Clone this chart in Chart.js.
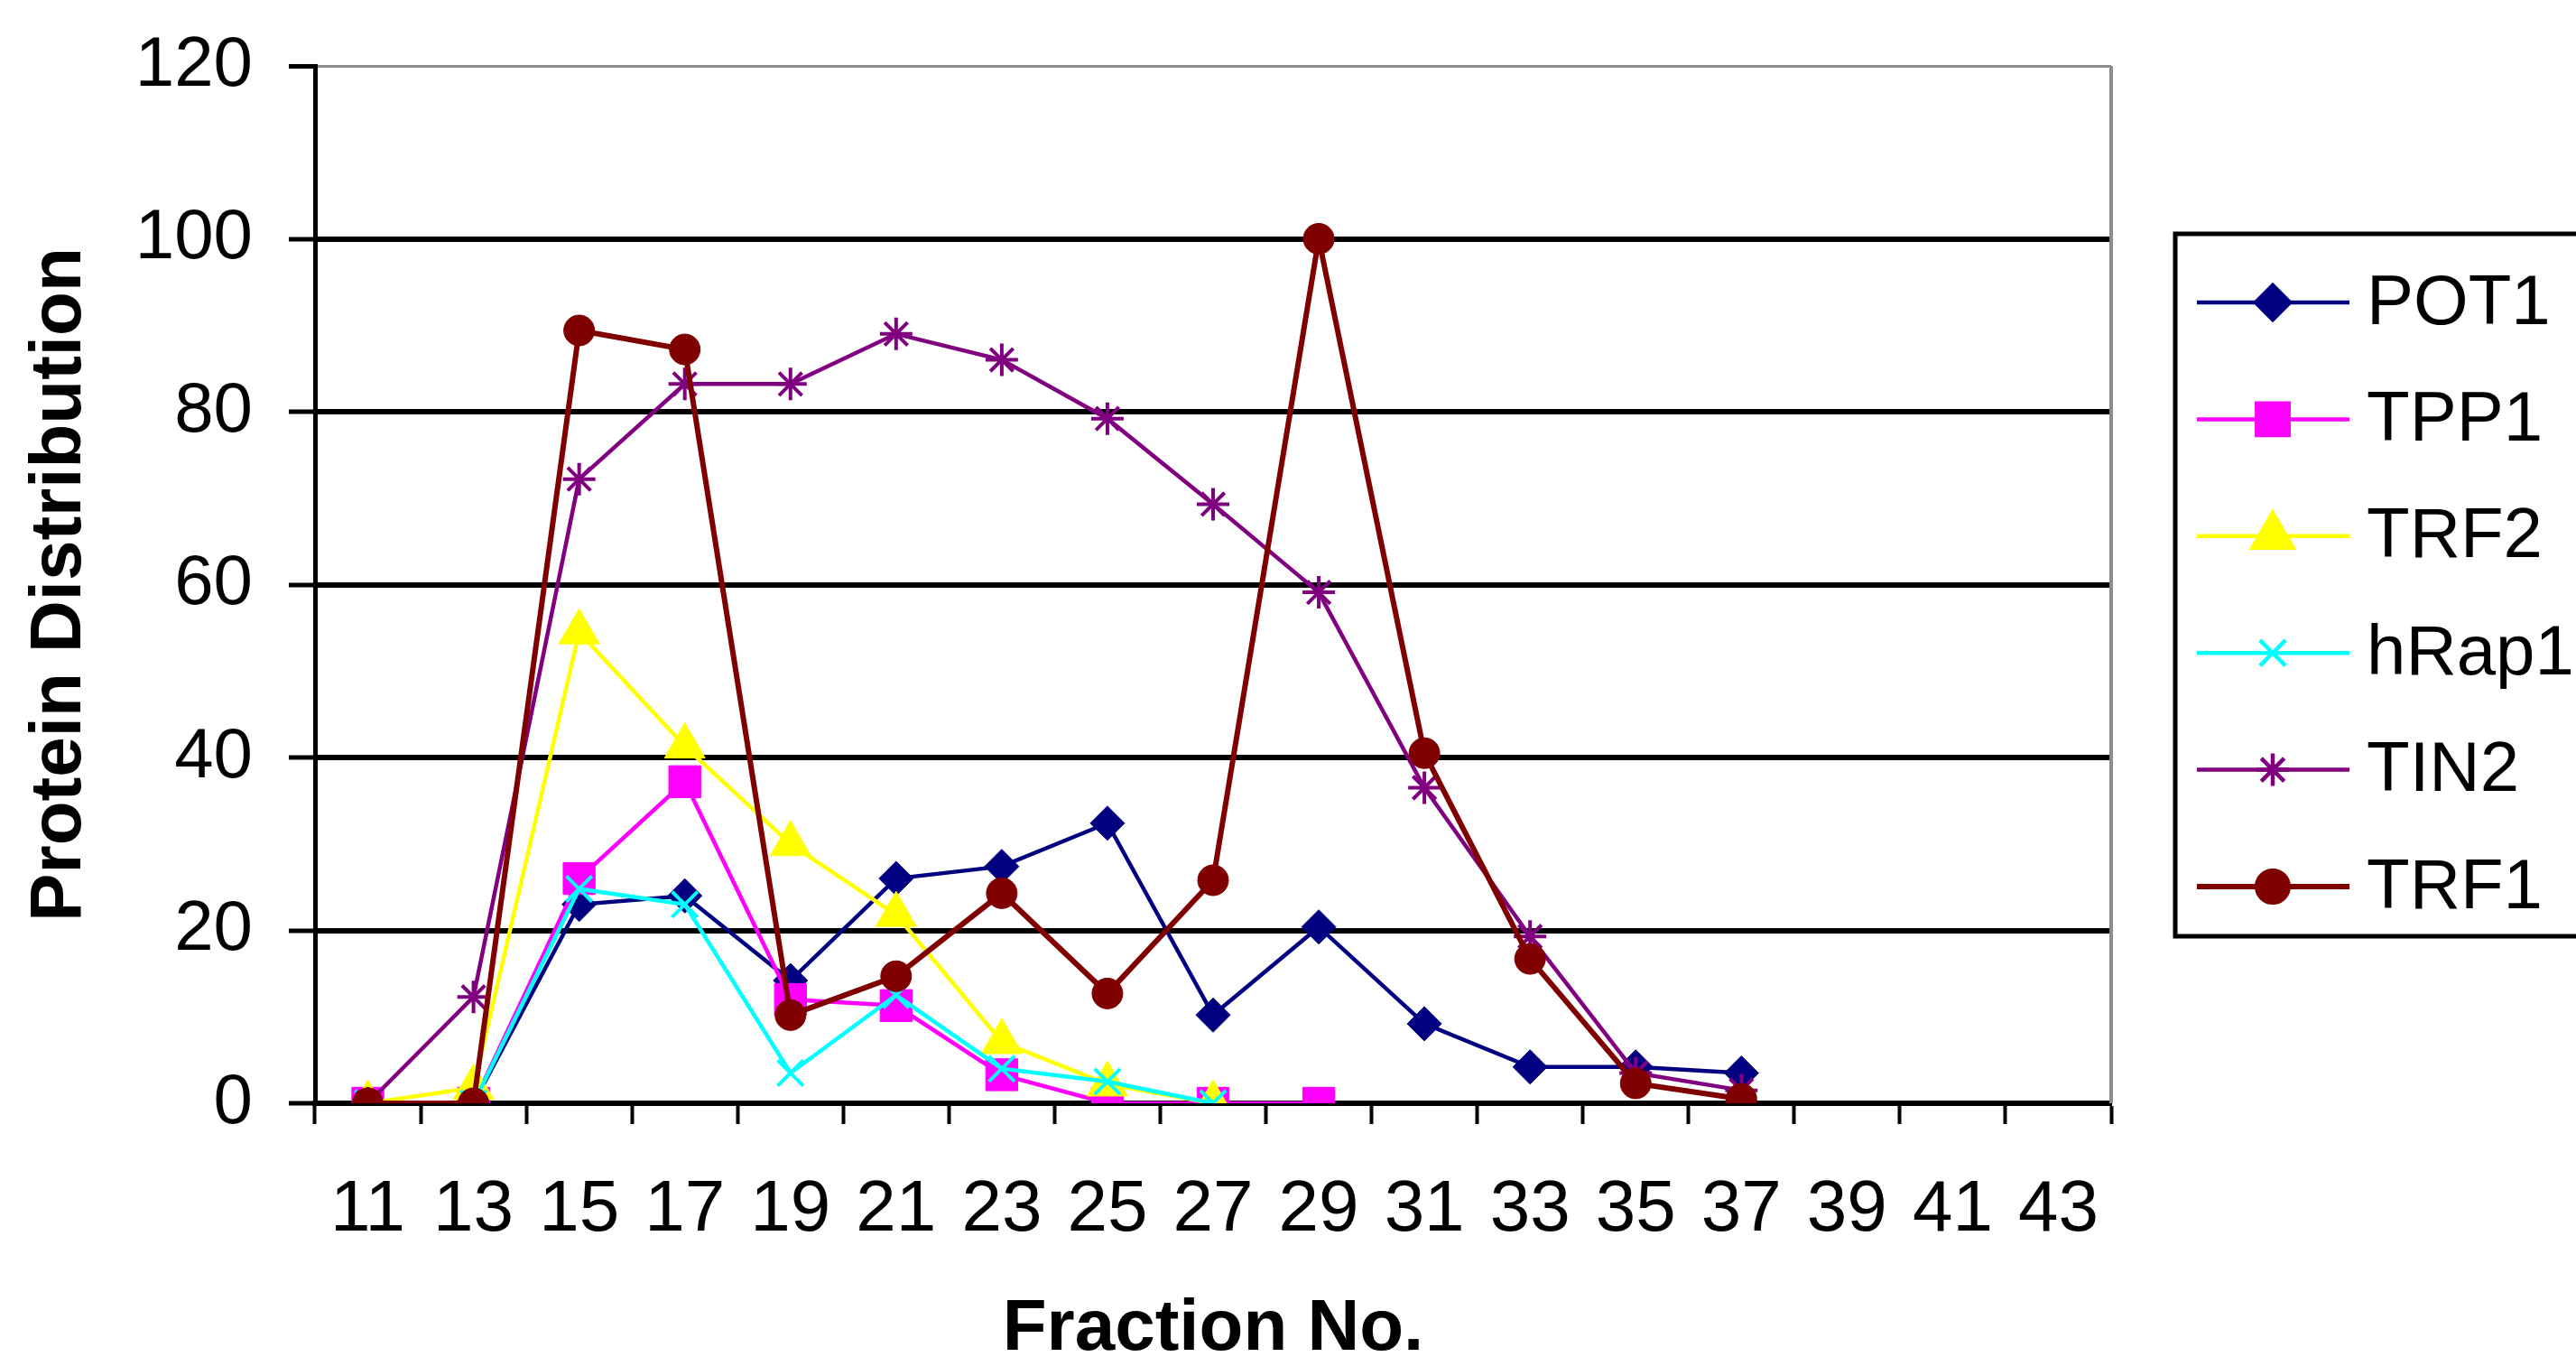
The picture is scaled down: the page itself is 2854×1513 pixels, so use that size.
<!DOCTYPE html>
<html>
<head>
<meta charset="utf-8">
<title>Protein Distribution</title>
<script src="https://cdn.jsdelivr.net/npm/chart.js@4.4.1/dist/chart.umd.min.js"></script>
<style>
  html, body { margin: 0; padding: 0; background: #fff; }
  canvas { display: block; }
</style>
</head>
<body>
<canvas id="fractionChart" width="2854" height="1513" style="width:2854px;height:1513px"></canvas>
<script>
// fraction numbers on the x axis (only odd fractions were sampled)
const fractions = ['11', '13', '15', '17', '19', '21', '23', '25', '27', '29', '31', '33', '35', '37', '39', '41', '43'];
const yTicks = [0, 20, 40, 60, 80, 100, 120];

// values, one per fraction from 11 upward
const pot1 = [0, 0, 23, 24, 14.2, 26, 27.4, 32.4, 10.2, 20.4, 9.2, 4.2, 4.2, 3.5];
const tpp1 = [0, 0, 26, 37.2, 12, 11.3, 3.3, 0, 0, 0];
const trf2 = [0, 1.8, 54.5, 41.3, 30, 21.8, 7.1, 2.2, 0];
const hrap1 = [0, 0, 24.8, 23, 3.5, 12.5, 4, 2.5, 0];
const tin2 = [0, 12.3, 72.2, 83.2, 83.2, 89, 86, 79.2, 69.3, 59.1, 36.5, 19.3, 3.5, 1.5];
const trf1 = [0, 0, 89.4, 87.2, 10.2, 14.7, 24.3, 12.7, 25.8, 100, 40.5, 16.7, 2.3, 0.5];

const seriesNames = ['POT1', 'TPP1', 'TRF2', 'hRap1', 'TIN2', 'TRF1'];
const seriesData = [pot1, tpp1, trf2, hrap1, tin2, trf1];
const seriesColors = ['#000080', '#ff00ff', '#ffff00', '#00ffff', '#800080', '#800000'];
const seriesMarkers = ['rectRot', 'rect', 'triangle', 'crossRot', 'star', 'circle'];
const markerSizes = [19, 25, 26, 20, 18, 17];
const lineWidths = [4.5, 4.5, 4.5, 4.5, 4.5, 6];

const FONT = '"Liberation Sans", Arial, sans-serif';

// Excel-like legend box: line with marker in the middle, then the name
const boxLegend = {
    id: 'boxLegend',
    afterDraw(chart) {
        const ctx = chart.ctx;
        ctx.save();
        ctx.lineWidth = 5;
        ctx.strokeStyle = '#000';
        ctx.fillStyle = '#fff';
        ctx.fillRect(2408, 257, 470, 782);
        ctx.strokeRect(2410, 259, 470, 778);
        chart.data.datasets.forEach((ds, i) => {
            const y = 335 + i * 129.4;
            ctx.strokeStyle = ds.borderColor;
            ctx.lineWidth = ds.borderWidth;
            ctx.beginPath();
            ctx.moveTo(2434, y);
            ctx.lineTo(2603, y);
            ctx.stroke();
            ctx.fillStyle = ds.backgroundColor;
            ctx.strokeStyle = ds.borderColor;
            Chart.helpers.drawPoint(ctx, {
                pointStyle: ds.pointStyle,
                radius: ds.pointRadius,
                rotation: 0,
                borderWidth: ds.pointBorderWidth
            }, 2518, y);
            ctx.fillStyle = '#000';
            ctx.font = '78px ' + FONT;
            ctx.textBaseline = 'middle';
            ctx.textAlign = 'left';
            ctx.fillText(ds.label, 2622, y + 2);
        });
        ctx.restore();
    }
};

// grey right edge of the plot area
const plotEdge = {
    id: 'plotEdge',
    beforeDatasetsDraw(chart) {
        const a = chart.chartArea;
        const ctx = chart.ctx;
        ctx.save();
        ctx.strokeStyle = '#8c8c8c';
        ctx.lineWidth = 4;
        ctx.beginPath();
        ctx.moveTo(a.right, a.top);
        ctx.lineTo(a.right, a.bottom);
        ctx.stroke();
        ctx.restore();
    }
};

const datasets = seriesNames.map((name, i) => ({
    label: name,
    data: seriesData[i],
    borderColor: seriesColors[i],
    backgroundColor: seriesColors[i],
    borderWidth: lineWidths[i],
    pointStyle: seriesMarkers[i],
    pointRadius: markerSizes[i],
    pointBorderWidth: (seriesMarkers[i] === 'crossRot' || seriesMarkers[i] === 'star') ? 4 : 1,
    tension: 0,
    fill: false,
    order: seriesNames.length - i
}));

new Chart(document.getElementById('fractionChart'), {
    type: 'line',
    data: { labels: fractions, datasets: datasets },
    options: {
        responsive: false,
        devicePixelRatio: 1,
        animation: false,
        layout: { padding: { left: 0, right: 515, top: 73, bottom: 0 } },
        plugins: {
            legend: { display: false },
            tooltip: { enabled: false }
        },
        scales: {
            x: {
                type: 'category',
                offset: true,
                grid: {
                    offset: true,
                    drawOnChartArea: false,
                    drawTicks: true,
                    tickLength: 23,
                    tickColor: '#000',
                    tickWidth: 4,
                    color: '#000'
                },
                border: { display: true, color: '#000', width: 6 },
                ticks: {
                    color: '#000',
                    font: { family: FONT, size: 80 },
                    padding: 48,
                    maxRotation: 0,
                    autoSkip: false
                },
                title: {
                    display: true,
                    text: 'Fraction No.',
                    color: '#000',
                    font: { family: FONT, size: 80, weight: 'bold', lineHeight: 1 },
                    padding: { top: 0, bottom: 0 }
                },
                afterFit(scale) { scale.height = 291; }
            },
            y: {
                min: 0,
                max: 120,
                afterBuildTicks(scale) { scale.ticks = yTicks.map(v => ({ value: v })); },
                grid: {
                    color: c => c.tick && c.tick.value === 120 ? '#8c8c8c' : '#000',
                    lineWidth: c => c.tick && c.tick.value === 120 ? 3 : 6,
                    tickColor: '#000',
                    tickWidth: 5,
                    tickLength: 29
                },
                border: { display: true, color: '#000', width: 5 },
                ticks: {
                    color: '#000',
                    font: { family: FONT, size: 78 },
                    padding: 40
                },
                title: {
                    display: true,
                    text: 'Protein Distribution',
                    color: '#000',
                    font: { family: FONT, size: 80, weight: 'bold', lineHeight: 1 },
                    padding: { top: 27, bottom: 0 }
                },
                afterFit(scale) {
                    scale.width = 349;
                    scale.paddingTop = 0;
                }
            }
        }
    },
    plugins: [plotEdge, boxLegend]
});
</script>
</body>
</html>
